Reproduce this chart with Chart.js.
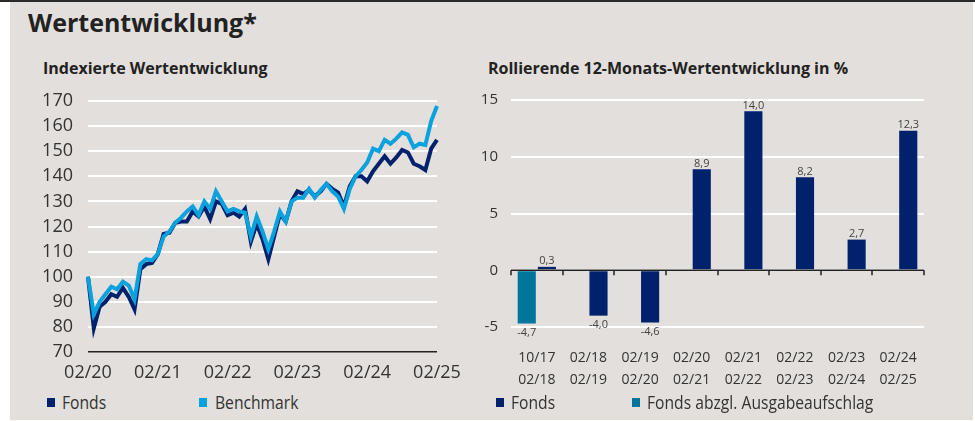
<!DOCTYPE html>
<html lang="de">
<head>
<meta charset="utf-8">
<script src="https://cdn.jsdelivr.net/npm/chart.js@4.4.1/dist/chart.umd.min.js"></script>
<style>
  html, body { margin:0; padding:0; background:#fff; }
  body { width:975px; height:421px; position:relative; overflow:hidden; font-family:'Open Sans', sans-serif; color:#2b2b2b; }
  .topline { position:absolute; left:0; top:0; width:975px; height:2px; background:#2a2a2a; }
  .panel { position:absolute; left:10px; top:2px; width:963px; height:418px; background:#e2dfdc; }
  .t { position:absolute; line-height:1; white-space:nowrap; font-weight:bold; color:#222; }
  canvas { position:absolute; }
  .lg { position:absolute; top:393px; font-size:18px; line-height:1; white-space:nowrap; color:#333; transform:scaleX(0.87); transform-origin:left top; }
  .sq { position:absolute; top:398px; width:8px; height:9px; }
</style>
</head>
<body>
<div class="topline"></div>
<div class="panel"></div>
<div class="t" style="left:28px; top:10px; font-size:25px;">Wertentwicklung*</div>
<div class="t" style="left:43px; top:60px; font-size:16px;">Indexierte Wertentwicklung</div>
<div class="t" style="left:488px; top:60px; font-size:16px;">Rollierende 12-Monats-Wertentwicklung in %</div>

<canvas id="lineChart" width="475" height="310" style="left:0; top:80px;"></canvas>
<canvas id="barChart" width="525" height="310" style="left:450px; top:80px;"></canvas>

<div class="sq" style="left:47px; background:#00216c;"></div>
<div class="lg" style="left:62px;">Fonds</div>
<div class="sq" style="left:199px; background:#0aa2de;"></div>
<div class="lg" style="left:215px;">Benchmark</div>
<div class="sq" style="left:496px; background:#00216c;"></div>
<div class="lg" style="left:511px;">Fonds</div>
<div class="sq" style="left:632px; background:#00769c;"></div>
<div class="lg" style="left:647px;">Fonds abzgl. Ausgabeaufschlag</div>

<script>
'use strict';
// Farben
const NAVY = '#00216c', LIGHT = '#0aa2de', TEAL = '#00769c', TXT = '#333';

// Indexierte Wertentwicklung, monatlich 02/20 .. 02/25
const fondsIndex = [100, 79.5, 88, 90, 93, 92, 95.5, 92, 87, 103, 105, 105.5,
  109, 117, 117.5, 121.5, 122, 122, 126, 124, 128, 123, 130, 129,
  124.5, 125.5, 124, 127, 114, 121, 115, 107, 116, 125, 122, 130,
  134, 133, 134.5, 132, 134, 137, 135, 133.5, 128, 136, 140, 140,
  138, 142, 145, 148, 145, 147.5, 150.5, 149.5, 145, 144, 142.5, 151, 154.5];
const benchmarkIndex = [100, 85, 90, 93, 96, 95, 98, 96.5, 91, 105, 107, 106.5,
  109, 116, 118, 121.5, 123.5, 126, 128, 124.5, 130, 127, 134, 130,
  126, 127, 126, 125.5, 116, 124, 118, 111, 118, 126, 122, 130,
  131.5, 131.5, 135, 131.5, 134.5, 137, 134, 132, 127, 135, 140, 142.5,
  145.5, 151, 150, 154.5, 153, 155, 157.5, 156.5, 151.5, 153, 152.5, 162, 168];
const yearTicks = ['02/20', '02/21', '02/22', '02/23', '02/24', '02/25'];

// Rollierende 12-Monats-Wertentwicklung
const periodStart = ['10/17', '02/18', '02/19', '02/20', '02/21', '02/22', '02/23', '02/24'];
const periodEnd   = ['02/18', '02/19', '02/20', '02/21', '02/22', '02/23', '02/24', '02/25'];
const fondsReturns = [0.3, -4.0, -4.6, 8.9, 14.0, 8.2, 2.7, 12.3];
const netReturns   = [-4.7, null, null, null, null, null, null, null];

// Monatslabels 02/20 .. 02/25
const months = [];
for (let y = 20; y <= 25; y++) for (let m = 1; m <= 12; m++) {
  if ((y === 20 && m < 2) || (y === 25 && m > 2)) continue;
  months.push(String(m).padStart(2,'0') + '/' + y);
}

Chart.defaults.font.family = "'Open Sans', sans-serif";
Chart.defaults.color = TXT;

// ticks.padding wird sonst oben/unten als Randabstand mitgerechnet -> Abstand über unsichtbare Teilstriche
new Chart(document.getElementById('lineChart'), {
  type: 'line',
  data: { labels: months, datasets: [
    { label:'Benchmark', data:benchmarkIndex, borderColor:LIGHT, borderWidth:4, pointRadius:0, order:1 },
    { label:'Fonds', data:fondsIndex, borderColor:NAVY, borderWidth:4, pointRadius:0, order:2 }
  ]},
  options: {
    responsive:false, animation:false,
    layout: { padding:{ top:21, right:38, left:0, bottom:0 } },
    plugins: { legend:{display:false}, tooltip:{enabled:false} },
    scales: {
      x: { offset:false, grid:{display:false}, border:{display:false},
           ticks:{ autoSkip:false, maxRotation:0, padding:2, font:{size:18},
                   callback:(v,i) => yearTicks.includes(months[i]) ? months[i] : null },
           afterFit: s => { s.height = 38; } },
      y: { min:70, max:170, border:{display:false},
           ticks:{ stepSize:10, font:{size:18}, padding:0 },
           grid:{ drawTicks:true, tickLength:15, tickColor:'rgba(0,0,0,0)',
                  color:c => c.tick.value === 70 ? '#222' : '#fff',
                  lineWidth:c => c.tick.value === 70 ? 1.5 : 2 },
           afterFit: s => { s.width = 88; } }
    }
  }
});

// Nulllinie mit Teilstrichen + Werte an den Balken
const barExtras = {
  id:'barExtras',
  afterDatasetsDraw(chart) {
    const {ctx, chartArea:a, scales:{x, y}} = chart;
    const y0 = y.getPixelForValue(0), n = chart.data.labels.length, w = (a.right - a.left) / n;
    ctx.save();
    ctx.strokeStyle = '#222'; ctx.lineWidth = 1.5;
    ctx.beginPath(); ctx.moveTo(a.left, y0); ctx.lineTo(a.right, y0);
    for (let i = 0; i <= n; i++) { const px = Math.round(a.left + i*w); ctx.moveTo(px, y0); ctx.lineTo(px, y0 + 5); }
    ctx.stroke();
    ctx.font = "11px 'Open Sans', sans-serif"; ctx.fillStyle = '#444'; ctx.textAlign = 'center';
    chart.data.datasets.forEach((ds, di) => {
      chart.getDatasetMeta(di).data.forEach((bar, i) => {
        const v = ds.data[i]; if (v === null) return;
        const lbl = v.toFixed(1).replace('.', ',');
        if (v >= 0) { ctx.textBaseline = 'bottom'; ctx.fillText(lbl, bar.x, bar.y); }
        else { ctx.textBaseline = 'top'; ctx.fillText(lbl, bar.x, bar.y + 4); }
      });
    });
    ctx.restore();
  }
};

new Chart(document.getElementById('barChart'), {
  type: 'bar',
  data: { labels: periodStart.map((s, i) => [s, periodEnd[i]]), datasets: [
    { label:'Fonds abzgl. Ausgabeaufschlag', data:netReturns, backgroundColor:TEAL },
    { label:'Fonds', data:fondsReturns, backgroundColor:NAVY }
  ]},
  options: {
    responsive:false, animation:false,
    layout: { padding:{ top:20, right:51, left:0, bottom:0 } },
    datasets: { bar:{ categoryPercentage:0.78, barPercentage:0.9, skipNull:false } },
    plugins: { legend:{display:false}, tooltip:{enabled:false} },
    scales: {
      x: { grid:{display:false}, border:{display:false},
           ticks:{ padding:12, maxRotation:0, autoSkip:false, font:{size:14, lineHeight:1.55} },
           afterFit: s => { s.height = 63; } },
      y: { min:-5, max:15, border:{display:false},
           ticks:{ stepSize:5, font:{size:15}, padding:0 },
           grid:{ drawTicks:true, tickLength:13, tickColor:'rgba(0,0,0,0)', color:'#fff', lineWidth:2 },
           afterFit: s => { s.width = 61; } }
    }
  },
  plugins: [barExtras]
});
</script>
</body>
</html>
